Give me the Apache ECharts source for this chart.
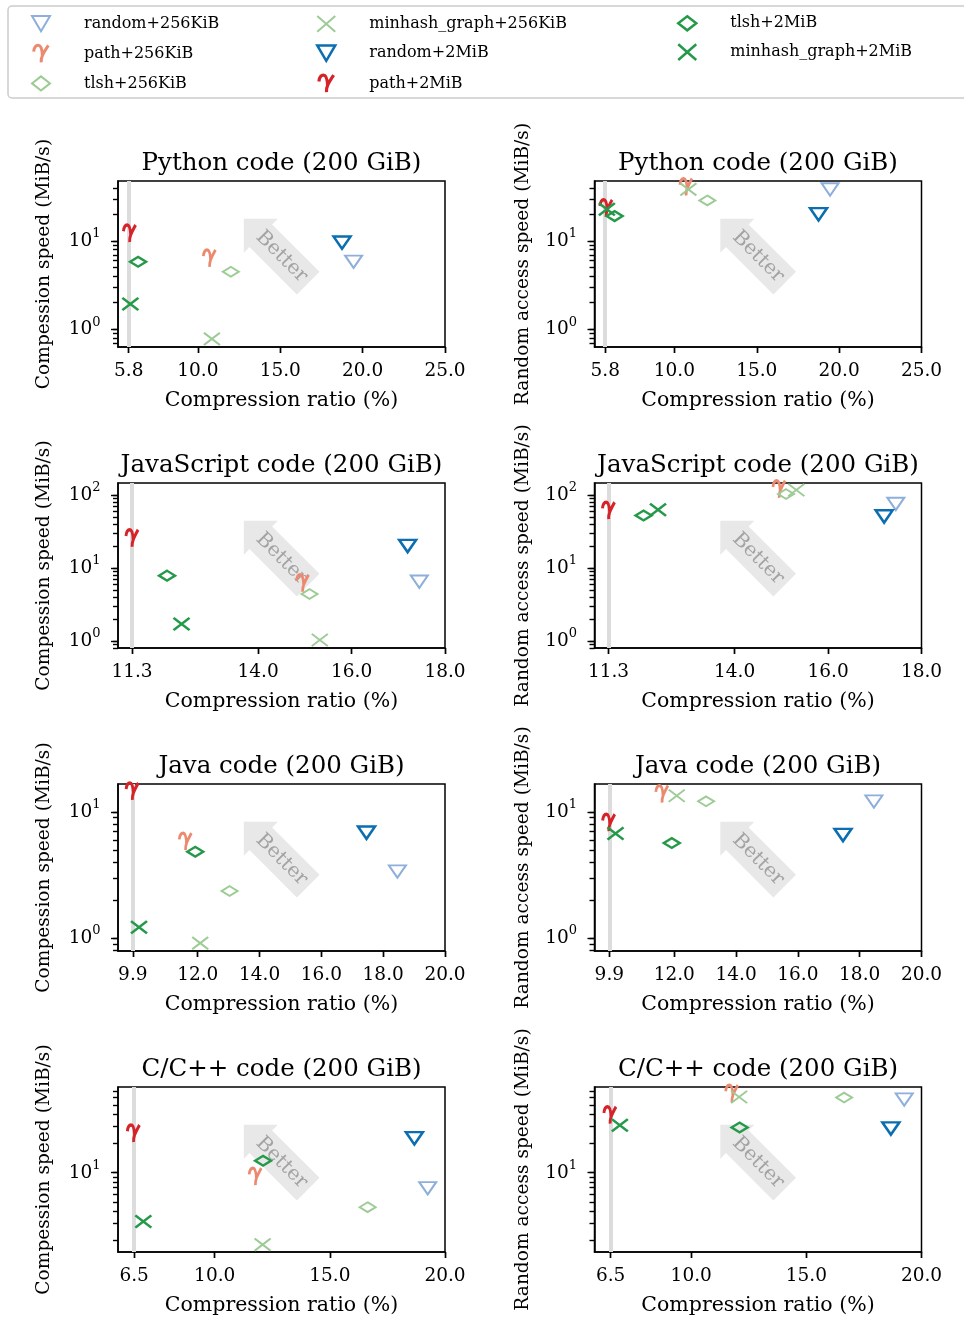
<!DOCTYPE html>
<html>
<head>
<meta charset="utf-8">
<script src="https://cdn.jsdelivr.net/npm/echarts@6/dist/echarts.min.js"></script>
<style>
html, body { margin: 0; padding: 0; background: #fff; }
#chart { width: 964px; height: 1318px; }
</style>
</head>
<body>
<div id="chart"></div>
<script>
// methods, in legend order
const methods = [
  'random+256KiB', 'path+256KiB', 'tlsh+256KiB', 'minhash_graph+256KiB',
  'random+2MiB', 'path+2MiB', 'tlsh+2MiB', 'minhash_graph+2MiB'
];
const panelTitles = ['Python code (200 GiB)', 'JavaScript code (200 GiB)', 'Java code (200 GiB)', 'C/C++ code (200 GiB)'];
const yNames = ['Compession speed (MiB/s)', 'Random access speed (MiB/s)'];

// compression ratio (%) per method
const ratioPython = [19.45, 10.7, 12.0, 10.85, 18.75, 5.85, 6.37, 5.9];
const ratioJavaScript = [17.45, 14.95, 15.1, 15.32, 17.2, 11.3, 12.05, 12.36];
const ratioJava = [18.46, 11.6, 13.03, 12.08, 17.46, 9.88, 11.92, 10.1];
const ratioCpp = [19.25, 11.76, 16.64, 12.08, 18.67, 6.47, 12.1, 6.9];

// compression speed (MiB/s)
const compPython = [5.83, 6.37, 4.49, 0.78, 9.6, 12.2, 5.83, 1.94];
const compJavaScript = [6.49, 6.17, 4.4, 1.03, 20, 25.5, 7.85, 1.71];
const compJava = [3.36, 5.8, 2.36, 0.913, 6.83, 14.5, 4.83, 1.22];
const compCpp = [6.91, 9.1, 4.41, 1.81, 22.6, 25.4, 13.3, 3.13];

// random access speed (MiB/s)
const raPython = [38.5, 41, 28.9, 38.5, 20.1, 23.5, 19.2, 22.9];
const raJavaScript = [75.5, 120, 103, 117, 50.8, 61, 52.4, 62.6];
const raJava = [12.05, 13.8, 12.1, 13.4, 6.55, 8.2, 5.66, 6.74];
const raCpp = [56.8, 65.5, 59.6, 60.4, 28.6, 39.2, 29.3, 30.9];

const ratios = [ratioPython, ratioJavaScript, ratioJava, ratioCpp];
const speeds = [[compPython, raPython], [compJavaScript, raJavaScript], [compJava, raJava], [compCpp, raCpp]];

// best ratio (grey line) and tick labels
const bestRatio = [5.8, 11.3, 9.9, 6.5];
const xTicks = [[5.8, 10, 15, 20, 25], [11.3, 14, 16, 18], [9.9, 12, 14, 16, 18, 20], [6.5, 10, 15, 20]];
const xRange = [[5.15, 25], [11.0, 18], [9.42, 20], [5.8, 20]];
const yRange = [[0.63, 48], [0.8, 146], [0.79, 16.6], [1.52, 76.6]];
const yMajor = [1, 10, 100];
const yMinor = [0.6, 0.7, 0.8, 0.9, 2, 3, 4, 5, 6, 7, 8, 9, 20, 30, 40, 50, 60, 70, 80, 90, 200];

// marker styles
const TRI = 'path://M0,0L17,0L8.5,14.5Z';
const GAMMA = 'path://M0.5,7C1,3 2.5,1.5 4.5,1.5C7,1.5 8,6 8.2,10.5M13.5,1.5C11.5,4.5 9.5,7.5 8.2,10.5C7.3,12.5 7,14.5 7.2,16.5';
const DIAM = 'path://M8,0L16,6.25L8,12.5L0,6.25Z';
const CROSS = 'path://M0,0L16,14M16,0L0,14';
const styles = [
  { sym: TRI, size: [17, 14.5], color: '#8eaedb', bw: 2 },
  { sym: GAMMA, size: [14, 17], color: '#ec8a70', bw: 3 },
  { sym: DIAM, size: [16, 12.5], color: '#9dcb95', bw: 2 },
  { sym: CROSS, size: [16, 14], color: '#9dcb95', bw: 2 },
  { sym: TRI, size: [17, 14.5], color: '#0a6eb0', bw: 2.5 },
  { sym: GAMMA, size: [14, 17], color: '#d6232a', bw: 3.2 },
  { sym: DIAM, size: [16, 12.5], color: '#25994a', bw: 2.5 },
  { sym: CROSS, size: [16, 14], color: '#25994a', bw: 2.5 }
];

const FONT = 'DejaVu Serif';
const gridTops = [181, 483, 784, 1087];
const gridHeights = [166, 165, 167, 165];
const gridLefts = [118, 594.5];
const gridWidth = 327;

const grids = [], xAxes = [], yAxes = [], titles = [], series = [], graphics = [];

graphics.push({
  type: 'rect', shape: { x: 8, y: 6, width: 990, height: 92, r: 4 },
  style: { fill: 'none', stroke: '#cccccc', lineWidth: 1.5 }, silent: true
});

const arrowPts = [[-21.5, -16], [45.5, -16], [45.5, 16], [-21.5, 16], [-21.5, 24], [-45.5, 0], [-21.5, -24]];
const tickLine = { color: '#000', width: 1.4 };
const frameLine = { show: true, onZero: false, lineStyle: { color: '#000', width: 1.5 } };

for (let r = 0; r < 4; r++) {
  for (let c = 0; c < 2; c++) {
    const g = r * 2 + c;
    const left = gridLefts[c], top = gridTops[r], h = gridHeights[r];
    grids.push({
      left: left, top: top, width: gridWidth, height: h,
      show: true, borderColor: '#000', borderWidth: 1.5, backgroundColor: 'transparent',
      containLabel: false, outerBoundsMode: 'none'
    });
    titles.push({
      text: panelTitles[r], left: left + gridWidth / 2, top: top - 30, textAlign: 'center', padding: 0,
      textStyle: { fontFamily: FONT, fontSize: 24.5, fontWeight: 'normal', color: '#000' }
    });
    // x axis with labels and name
    xAxes.push({
      gridIndex: g, type: 'value', position: 'bottom', min: xRange[r][0], max: xRange[r][1],
      name: 'Compression ratio (%)', nameLocation: 'middle', nameGap: 43,
      nameTextStyle: { fontFamily: FONT, fontSize: 20.5, color: '#000' },
      axisLine: frameLine,
      axisTick: { show: true, customValues: xTicks[r], length: 6, lineStyle: tickLine },
      axisLabel: {
        customValues: xTicks[r], formatter: v => v.toFixed(1), margin: 15,
        fontFamily: FONT, fontSize: 18.5, color: '#000'
      },
      splitLine: { show: false }
    });
    // top axis moved onto the bottom edge: carries the x tick marks
    xAxes.push({
      gridIndex: g, type: 'value', position: 'top', offset: -h, min: xRange[r][0], max: xRange[r][1],
      axisLine: { show: false },
      axisTick: { show: true, inside: true, customValues: xTicks[r], length: 6, lineStyle: tickLine },
      axisLabel: { show: false },
      splitLine: { show: false }
    });
    yAxes.push({
      gridIndex: g, type: 'log', position: 'left', min: yRange[r][0], max: yRange[r][1],
      name: yNames[c], nameLocation: 'middle', nameGap: c === 0 ? 64 : 62,
      nameTextStyle: { fontFamily: FONT, fontSize: 18.6, color: '#000' },
      axisLine: frameLine,
      axisTick: { show: true, customValues: yMajor, length: 7, lineStyle: tickLine },
      axisLabel: {
        customValues: yMajor, margin: 17.5,
        formatter: v => '{b|10}{s|' + Math.round(Math.log10(v)) + '}',
        rich: {
          b: { fontFamily: FONT, fontSize: 18.5, color: '#000' },
          s: { fontFamily: FONT, fontSize: 13, color: '#000', padding: [0, 0, 14, 0] }
        }
      },
      splitLine: { show: false }
    });
    // right axis moved onto the left edge: carries the log tick marks
    yAxes.push({
      gridIndex: g, type: 'log', position: 'right', offset: -gridWidth, min: yRange[r][0], max: yRange[r][1],
      axisLine: { show: false },
      axisTick: { show: true, inside: true, customValues: yMajor.concat(yMinor), length: 5, lineStyle: tickLine },
      axisLabel: { show: false },
      splitLine: { show: false }
    });

    const xi = 2 * g, yi = 2 * g;

    // grey line at the best ratio, kept under the markers
    series.push({
      type: 'scatter', xAxisIndex: xi, yAxisIndex: yi, data: [], silent: true, z: 1,
      markLine: {
        silent: true, z: 1, symbol: ['none', 'none'], label: { show: false },
        lineStyle: { color: '#dcdcdc', width: 4, type: 'solid' },
        emphasis: { disabled: true },
        data: [{ xAxis: bestRatio[r] }]
      }
    });

    methods.forEach((m, i) => {
      const st = styles[i];
      series.push({
        name: m, type: 'scatter', xAxisIndex: xi, yAxisIndex: yi, z: 3,
        symbol: st.sym, symbolSize: st.size, symbolKeepAspect: true,
        itemStyle: { color: 'rgba(0,0,0,0)', borderColor: st.color, borderWidth: st.bw, opacity: 1 },
        emphasis: { disabled: true },
        data: [[ratios[r][i], speeds[r][c][i]]]
      });
    });

    graphics.push({
      type: 'group', x: left + 158, y: top + 70, rotation: -Math.PI / 4, silent: true,
      children: [
        { type: 'polygon', shape: { points: arrowPts }, style: { fill: '#e8e8e8' } },
        {
          type: 'text', x: 8, y: 0,
          style: { text: 'Better', fill: '#a3a3a3', font: '20px "DejaVu Serif"', align: 'center', verticalAlign: 'middle' }
        }
      ]
    });
  }
}

function legendItem(m) {
  const st = styles[methods.indexOf(m)];
  return {
    name: m, icon: st.sym,
    itemStyle: { color: 'rgba(0,0,0,0)', borderColor: st.color, borderWidth: st.bw }
  };
}
function legendCol(names, left) {
  return {
    orient: 'vertical', left: left, top: 15, padding: 0, itemGap: 11.5,
    itemWidth: 18, itemHeight: 17, selectedMode: false,
    textStyle: { fontFamily: FONT, fontSize: 16, color: '#000', padding: [0, 0, 0, 29] },
    data: names.map(legendItem)
  };
}

const chart = echarts.init(document.getElementById('chart'));
chart.setOption({
  animation: false,
  backgroundColor: '#fff',
  title: titles,
  legend: [
    legendCol(methods.slice(0, 3), 31),
    legendCol(methods.slice(3, 6), 316),
    legendCol(methods.slice(6), 677)
  ],
  grid: grids,
  xAxis: xAxes,
  yAxis: yAxes,
  graphic: graphics,
  series: series
});
</script>
</body>
</html>
